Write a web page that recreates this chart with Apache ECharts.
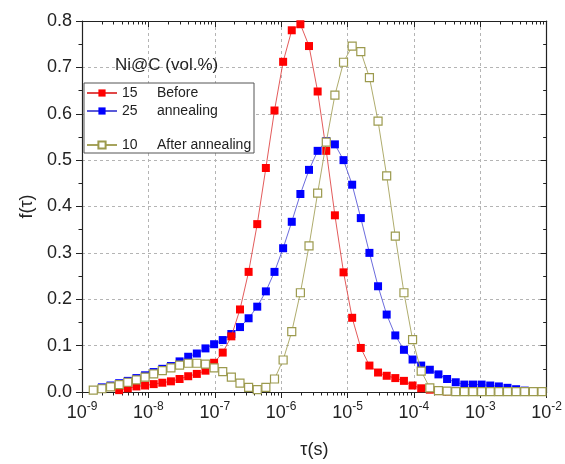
<!DOCTYPE html>
<html>
<head>
<meta charset="utf-8">
<script src="https://cdn.jsdelivr.net/npm/echarts@6/dist/echarts.min.js"></script>
<style>
	html, body { margin: 0; padding: 0; background: #fff; }
	#chart { width: 565px; height: 464px; }
</style>
</head>
<body>
<div id="chart"></div>
<script>
// log10 of tau (s) for every point
var logTau = [-8.83, -8.70, -8.57, -8.44, -8.31, -8.18, -8.05, -7.92, -7.79, -7.66,
	-7.53, -7.40, -7.27, -7.14, -7.01, -6.88, -6.75, -6.62, -6.49, -6.36,
	-6.23, -6.10, -5.97, -5.84, -5.71, -5.58, -5.45, -5.32, -5.19, -5.06,
	-4.93, -4.80, -4.67, -4.54, -4.41, -4.28, -4.15, -4.02, -3.89, -3.76,
	-3.63, -3.50, -3.37, -3.24, -3.11, -2.98, -2.85, -2.72, -2.59, -2.46,
	-2.33, -2.20, -2.07];

// 15 vol.% before annealing
var f15 = [null, null, null, 0.004, 0.008, 0.012, 0.014, 0.017, 0.020, 0.023,
	0.028, 0.034, 0.039, 0.046, 0.063, 0.085, 0.120, 0.178, 0.259, 0.362,
	0.483, 0.607, 0.712, 0.780, 0.793, 0.746, 0.648, 0.520, 0.381, 0.258,
	0.160, 0.095, 0.057, 0.042, 0.035, 0.030, 0.024, 0.014, 0.008, 0.005,
	0.002, 0.001, null, null, null, null, null, null, null, null,
	null, null, null];

// 25 vol.% before annealing
var f25 = [null, 0.010, 0.014, 0.019, 0.024, 0.030, 0.036, 0.043, 0.050, 0.056,
	0.066, 0.076, 0.083, 0.094, 0.103, 0.112, 0.125, 0.140, 0.159, 0.184,
	0.217, 0.259, 0.310, 0.367, 0.427, 0.479, 0.520, 0.541, 0.534, 0.500,
	0.447, 0.375, 0.300, 0.228, 0.167, 0.122, 0.091, 0.070, 0.057, 0.048,
	0.038, 0.028, 0.021, 0.016, 0.016, 0.016, 0.014, 0.012, 0.009, 0.006,
	0.003, null, null];

// 10 vol.% after annealing
var f10 = [0.004, 0.007, 0.011, 0.016, 0.021, 0.026, 0.032, 0.039, 0.046, 0.052,
	0.058, 0.062, 0.062, 0.060, 0.052, 0.044, 0.032, 0.019, 0.010, 0.005,
	0.010, 0.028, 0.069, 0.130, 0.214, 0.315, 0.429, 0.539, 0.640, 0.711,
	0.746, 0.734, 0.678, 0.584, 0.466, 0.336, 0.214, 0.113, 0.045, 0.009,
	0.003, 0.002, 0.001, 0.001, 0.001, 0.001, 0.001, 0.001, 0.001, 0.001,
	0.001, 0.001, 0.001];

var decades = [-9, -8, -7, -6, -5, -4, -3, -2];
var legendText = { '15': 'Before', '25': 'annealing', '10': 'After annealing' };

var fontName = 'Liberation Sans, Arial, sans-serif';
var axisColor = '#222';

// minor ticks of the log axis: 2..9 x 10^k
var minorTicks = [];
for (var d = 0; d < decades.length - 1; d++) {
	for (var m = 2; m <= 9; m++) {
		minorTicks.push(decades[d] + Math.log10(m));
	}
}

function toPairs(vals) {
	var out = [];
	vals.forEach(function (v, i) {
		if (v !== null) out.push([logTau[i], v]);
	});
	return out;
}

function xAxisBase(position, inside, minor) {
	return {
		type: 'value',
		position: position,
		min: decades[0],
		max: decades[decades.length - 1],
		interval: 1,
		axisLine: { show: !minor, lineStyle: { color: axisColor, width: 1.2 } },
		axisTick: {
			show: true,
			inside: inside,
			length: minor ? 3.5 : 6,
			customValues: minor ? minorTicks : undefined,
			lineStyle: { color: axisColor, width: 1 }
		},
		axisLabel: { show: false },
		splitLine: { show: false }
	};
}

var gridLine = { show: true, lineStyle: { color: '#b4b4b4', type: [3, 3], width: 1 } };

var xBottom = xAxisBase('bottom', false, false);
xBottom.axisLabel = {
	show: true,
	margin: 9,
	formatter: function (v) {
		return '{b|10}{s|' + v + '}';
	},
	rich: {
		b: { fontSize: 18, fontFamily: fontName, color: axisColor, lineHeight: 24 },
		s: { fontSize: 12, fontFamily: fontName, color: axisColor, lineHeight: 12, verticalAlign: 'top' }
	}
};
xBottom.splitLine = gridLine;
xBottom.name = '\u03c4(s)';
xBottom.nameLocation = 'middle';
xBottom.nameGap = 49;
xBottom.nameTextStyle = { fontSize: 18, fontFamily: fontName, color: axisColor };

function yAxisBase(position, inside) {
	return {
		type: 'value',
		position: position,
		min: 0,
		max: 0.8,
		interval: 0.1,
		axisLine: { show: true, lineStyle: { color: axisColor, width: 1.2 } },
		axisTick: { show: true, inside: inside, length: 6, lineStyle: { color: axisColor, width: 1 } },
		minorTick: { show: true, splitNumber: 2, length: 3.5, lineStyle: { color: axisColor, width: 1 } },
		axisLabel: { show: false },
		splitLine: { show: false }
	};
}

var yLeft = yAxisBase('left', false);
yLeft.axisLabel = {
	show: true,
	margin: 10,
	fontSize: 18,
	fontFamily: fontName,
	color: axisColor,
	formatter: function (v) { return v.toFixed(1); }
};
yLeft.splitLine = gridLine;
yLeft.name = 'f(\u03c4)';
yLeft.nameLocation = 'middle';
yLeft.nameGap = 44;
yLeft.nameTextStyle = { fontSize: 18, fontFamily: fontName, color: axisColor };

var series15 = {
	name: '15',
	type: 'line',
	data: toPairs(f15),
	symbol: 'rect',
	symbolSize: 8,
	z: 3,
	itemStyle: { color: '#ff0000' },
	lineStyle: { color: '#e04848', width: 0.9 }
};
var series25 = {
	name: '25',
	type: 'line',
	data: toPairs(f25),
	symbol: 'rect',
	symbolSize: 8,
	z: 2,
	itemStyle: { color: '#0000ff' },
	lineStyle: { color: '#5a5ad8', width: 0.9 }
};
var series10 = {
	name: '10',
	type: 'line',
	data: toPairs(f10),
	symbol: 'rect',
	symbolSize: 8,
	z: 4,
	itemStyle: { color: '#ffffff', borderColor: '#9c9a4e', borderWidth: 1.2 },
	lineStyle: { color: '#a6a35c', width: 0.9 }
};

function legendOpt(names, top) {
	return {
		data: names,
		orient: 'vertical',
		left: 86,
		top: top,
		itemWidth: 30,
		itemHeight: 9,
		itemGap: 4,
		padding: 0,
		z: 10,
		selectedMode: false,
		formatter: function (name) {
			return '{n|' + name + '}{d|' + legendText[name] + '}';
		},
		textStyle: {
			fontSize: 14,
			fontFamily: fontName,
			color: axisColor,
			rich: {
				n: { width: 35, fontSize: 14, fontFamily: fontName, color: axisColor },
				d: { fontSize: 14, fontFamily: fontName, color: axisColor }
			}
		}
	};
}

var chart = echarts.init(document.getElementById('chart'), null, { renderer: 'canvas' });
var option = {
	animation: false,
	backgroundColor: '#fff',
	title: {
		text: 'Ni@C (vol.%)',
		left: 115,
		top: 57,
		padding: 0,
		textStyle: { fontSize: 17, fontWeight: 'normal', fontFamily: fontName, color: axisColor }
	},
	grid: { left: 82, right: 17, top: 21, bottom: 69, containLabel: false },
	graphic: [
		{
			type: 'rect',
			z: 5,
			shape: { x: 84, y: 83, width: 170, height: 70 },
			style: { fill: '#fff', stroke: '#555', lineWidth: 1 }
		}
	],
	legend: [
		legendOpt(['15', '25'], 86),
		legendOpt(['10'], 138)
	],
	xAxis: [
		xBottom,
		xAxisBase('bottom', false, true),
		xAxisBase('top', true, false),
		xAxisBase('top', true, true)
	],
	yAxis: [
		yLeft,
		yAxisBase('right', true)
	],
	series: [series25, series15, series10]
};
chart.setOption(option);
</script>
</body>
</html>
